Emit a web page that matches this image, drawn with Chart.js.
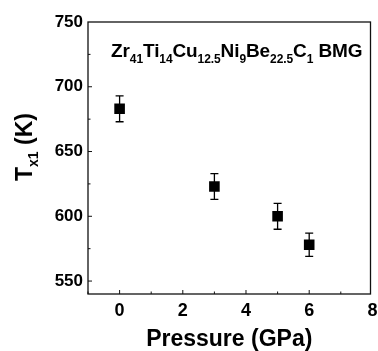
<!DOCTYPE html>
<html>
<head>
<meta charset="utf-8">
<script src="https://cdn.jsdelivr.net/npm/chart.js@4.4.1/dist/chart.umd.min.js"></script>
<style>
  html, body { margin: 0; padding: 0; background: #fff; }
  #wrap { position: relative; width: 378px; height: 351px; overflow: hidden; font-family: Arial, "Liberation Sans", sans-serif; }
  #ytitle { position: absolute; left: 26px; top: 147px; transform: translate(-50%, -50%) rotate(-90deg); white-space: nowrap; font-weight: bold; font-size: 23px; color: #000; }
  #ytitle sub { font-size: 14px; vertical-align: -6px; }
  #note { position: absolute; left: 111px; top: 40px; white-space: nowrap; font-weight: bold; font-size: 19px; color: #000; letter-spacing: -0.1px; }
  #note sub { font-size: 12px; vertical-align: -6px; }
</style>
</head>
<body>
<div id="wrap">
  <canvas id="chart" width="378" height="351"></canvas>
  <div id="ytitle">T<sub>x1</sub> (K)</div>
  <div id="note">Zr<sub>41</sub>Ti<sub>14</sub>Cu<sub>12.5</sub>Ni<sub>9</sub>Be<sub>22.5</sub>C<sub>1</sub> BMG</div>
</div>
<script>
// data
const pressure = [0, 3, 5, 6];
const tx1 = [683, 623, 600, 578];
const tx1Err = [10, 10, 10, 9];

const xTicks = [0, 2, 4, 6, 8];
const yTicks = [550, 600, 650, 700, 750];

// vertical error bars, drawn under the squares
const errorBars = {
  id: 'errorBars',
  beforeDatasetsDraw(chart) {
    const { ctx, scales: { x, y } } = chart;
    ctx.save();
    ctx.strokeStyle = '#000';
    ctx.lineWidth = 1.3;
    pressure.forEach((p, i) => {
      const px = x.getPixelForValue(p);
      const top = y.getPixelForValue(tx1[i] + tx1Err[i]);
      const bot = y.getPixelForValue(tx1[i] - tx1Err[i]);
      ctx.beginPath();
      ctx.moveTo(px, top); ctx.lineTo(px, bot);
      ctx.moveTo(px - 4, top); ctx.lineTo(px + 4, top);
      ctx.moveTo(px - 4, bot); ctx.lineTo(px + 4, bot);
      ctx.stroke();
    });
    ctx.restore();
  }
};

// box frame + inward ticks
const frame = {
  id: 'frame',
  afterDraw(chart) {
    const { ctx, chartArea: a, scales: { x, y } } = chart;
    ctx.save();
    ctx.strokeStyle = '#111';
    ctx.lineWidth = 1.3;
    ctx.strokeRect(a.left, a.top, a.right - a.left, a.bottom - a.top);
    ctx.lineWidth = 1;
    ctx.beginPath();
    for (let v = -1; v <= 7; v++) {
      const px = x.getPixelForValue(v);
      const len = v % 2 === 0 ? 4 : 2.5;
      ctx.moveTo(px, a.bottom); ctx.lineTo(px, a.bottom - len);
    }
    for (let v = 550; v < 750; v += 25) {
      const py = y.getPixelForValue(v);
      const len = v % 50 === 0 ? 4 : 2.5;
      ctx.moveTo(a.left, py); ctx.lineTo(a.left + len, py);
    }
    ctx.stroke();
    ctx.restore();
  }
};

new Chart(document.getElementById('chart'), {
  type: 'scatter',
  data: {
    datasets: [{
      data: pressure.map((p, i) => ({ x: p, y: tx1[i] })),
      pointStyle: 'rect',
      pointRadius: 7.5,
      pointHoverRadius: 7.5,
      backgroundColor: '#000',
      borderColor: '#000',
      borderWidth: 0,
    }]
  },
  options: {
    responsive: false,
    animation: false,
    layout: { padding: { top: 22, right: 4, left: 0, bottom: 0 } },
    plugins: { legend: { display: false }, tooltip: { enabled: false } },
    scales: {
      x: {
        type: 'linear', min: -1, max: 7.94,
        afterBuildTicks: s => { s.ticks = xTicks.map(v => ({ value: v })); },
        afterFit: s => { s.height = 57; s.paddingLeft = 0; s.paddingRight = 0; },
        grid: { display: false, drawTicks: false },
        border: { display: false },
        ticks: { color: '#000', padding: 6, maxRotation: 0, font: { family: 'Arial', size: 18, weight: 'bold' } },
        title: { display: true, text: 'Pressure (GPa)', color: '#000', padding: { top: 0, bottom: 0 }, font: { family: 'Arial', size: 23, weight: 'bold', lineHeight: 1 } }
      },
      y: {
        type: 'linear', min: 540, max: 750,
        afterBuildTicks: s => { s.ticks = yTicks.map(v => ({ value: v })); },
        afterFit: s => { s.width = 88; s.paddingTop = 0; s.paddingBottom = 0; },
        grid: { display: false, drawTicks: false },
        border: { display: false },
        ticks: { color: '#000', padding: 5, font: { family: 'Arial', size: 17, weight: 'bold' } }
      }
    }
  },
  plugins: [errorBars, frame]
});
</script>
</body>
</html>
